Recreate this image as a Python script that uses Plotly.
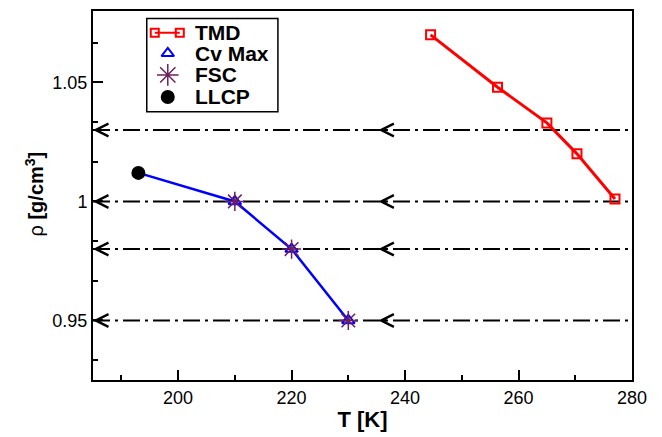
import plotly.graph_objects as go

# ---- data ----
tmd_T = [244.5, 256.3, 265.0, 270.3, 277.0]
tmd_rho = [1.070, 1.048, 1.033, 1.020, 1.001]

cv_T = [210, 220, 230]
cv_rho = [1.000, 0.980, 0.950]

fsc_T = [210, 220, 230]
fsc_rho = [1.000, 0.980, 0.950]

llcp_T = [193.0]
llcp_rho = [1.012]

path_T = [193.0, 210, 220, 230]
path_rho = [1.012, 1.000, 0.980, 0.950]

iso_rho = [1.03, 1.00, 0.98, 0.95]
arrow_T = [185.0, 235.3]

x_range = [185, 280]
y_range = [0.925, 1.08]
x_ticks = [200, 220, 240, 260, 280]
y_ticks = [0.95, 1.0, 1.05]
y_ticktext = ["0.95", "1", "1.05"]

legend_names = ["TMD", "Cv Max", "FSC", "LLCP"]

FONT = "Liberation Sans, Arial, Helvetica, sans-serif"
RED, BLUE, PURPLE = "#ff0000", "#0000ff", "#6e1f5e"

fig = go.Figure()

# isochore dash-dot lines
for r in iso_rho:
    fig.add_shape(type="line", xref="x", yref="y", x0=x_range[0], x1=x_range[1], y0=r, y1=r,
                  line=dict(color="black", width=2, dash="17px,5px,3px,5px"), layer="below")
    for t in arrow_T:
        fig.add_annotation(x=t, y=r, xref="x", yref="y", ax=10, ay=0, text="",
                           showarrow=True, arrowhead=5, arrowsize=1.25, arrowwidth=2,
                           arrowcolor="black", standoff=0)

# blue line through Cv max / FSC to LLCP
fig.add_trace(go.Scatter(x=path_T, y=path_rho, mode="lines",
                         line=dict(color=BLUE, width=2.5), showlegend=False, hoverinfo="skip"))

fig.add_trace(go.Scatter(x=tmd_T, y=tmd_rho, mode="lines+markers", name="TMD",
                         line=dict(color=RED, width=3),
                         marker=dict(symbol="square-open", size=9, color=RED,
                                     line=dict(width=2, color=RED)), showlegend=False))

fig.add_trace(go.Scatter(x=cv_T, y=cv_rho, mode="markers", name="Cv Max",
                         marker=dict(symbol="triangle-up-open", size=11, color=BLUE,
                                     line=dict(width=2, color=BLUE)), showlegend=False))

fig.add_trace(go.Scatter(x=fsc_T, y=fsc_rho, mode="markers", name="FSC",
                         marker=dict(symbol="asterisk-open", size=16, color=PURPLE,
                                     line=dict(width=1.5, color=PURPLE)), showlegend=False))

fig.add_trace(go.Scatter(x=llcp_T, y=llcp_rho, mode="markers", name="LLCP",
                         marker=dict(symbol="circle", size=14, color="black"), showlegend=False))

# ---- custom legend drawn on an overlay axis in pixel units of the plot area ----
PX_L, PX_R, PX_T, PX_B = 93.3, 631.7, 9.3, 385.7
box = dict(x0=147, x1=278, y0=17, y1=112)
rows = [31.5, 52.5, 74.5, 97]
sym_x = 168
text_x = 193

fig.add_shape(type="rect", xref="x2", yref="y2", x0=box["x0"], x1=box["x1"], y0=box["y0"], y1=box["y1"],
              line=dict(color="black", width=1.5), fillcolor="white", layer="below")
# TMD key: square - line - square
fig.add_trace(go.Scatter(x=[155, 180], y=[rows[0], rows[0]], xaxis="x2", yaxis="y2", mode="lines+markers",
                         line=dict(color=RED, width=2),
                         marker=dict(symbol="square-open", size=8, color=RED, line=dict(width=2, color=RED)),
                         showlegend=False, hoverinfo="skip"))
fig.add_trace(go.Scatter(x=[sym_x], y=[rows[1]], xaxis="x2", yaxis="y2", mode="markers",
                         marker=dict(symbol="triangle-up-open", size=11, color=BLUE, line=dict(width=2, color=BLUE)),
                         showlegend=False, hoverinfo="skip"))
fig.add_trace(go.Scatter(x=[sym_x], y=[rows[2]], xaxis="x2", yaxis="y2", mode="markers",
                         marker=dict(symbol="asterisk-open", size=18, color=PURPLE, line=dict(width=1.5, color=PURPLE)),
                         showlegend=False, hoverinfo="skip"))
fig.add_trace(go.Scatter(x=[sym_x], y=[rows[3]], xaxis="x2", yaxis="y2", mode="markers",
                         marker=dict(symbol="circle", size=14, color="black"),
                         showlegend=False, hoverinfo="skip"))
for name, ry in zip(legend_names, rows):
    fig.add_annotation(x=text_x, y=ry, xref="x2", yref="y2", text="<b>%s</b>" % name, showarrow=False,
                       xanchor="left", yanchor="middle",
                       font=dict(family=FONT, size=21, color="black"))

# y-axis title as rotated annotation
fig.add_annotation(x=-(PX_L - 35) / (PX_R - PX_L), y=0.5045, xref="paper", yref="paper",
                   text="ρ <b>[g/cm<sup>3</sup>]</b>", textangle=-90, showarrow=False,
                   xanchor="center", yanchor="middle",
                   font=dict(family=FONT, size=20, color="black"))

axis_common = dict(showgrid=False, zeroline=False, showline=True, linecolor="black",
                   linewidth=2, mirror=True, ticks="inside", tickcolor="black",
                   tickwidth=1.5, ticklen=10,
                   tickfont=dict(family=FONT, size=18, color="black"))

fig.update_layout(
    xaxis=dict(range=x_range, tickvals=x_ticks,
               minor=dict(dtick=10, tick0=0, ticks="inside", ticklen=5, tickwidth=1.5, tickcolor="black"),
               title=dict(text="<b>T [K]</b>", font=dict(family=FONT, size=22, color="black"), standoff=5),
               **axis_common),
    yaxis=dict(range=y_range, tickvals=y_ticks, ticktext=y_ticktext,
               minor=dict(dtick=0.05 / 3, tick0=0.95, ticks="inside", ticklen=5, tickwidth=1.5, tickcolor="black"),
               **axis_common),
    xaxis2=dict(overlaying="x", range=[PX_L, PX_R], visible=False, fixedrange=True),
    yaxis2=dict(overlaying="y", range=[PX_B, PX_T], visible=False, fixedrange=True),
    width=662, height=437,
    margin=dict(l=93, r=30, t=9, b=51),
    paper_bgcolor="white", plot_bgcolor="white",
    font=dict(family=FONT, color="black"),
    showlegend=False,
)

fig.write_html("out.html")
